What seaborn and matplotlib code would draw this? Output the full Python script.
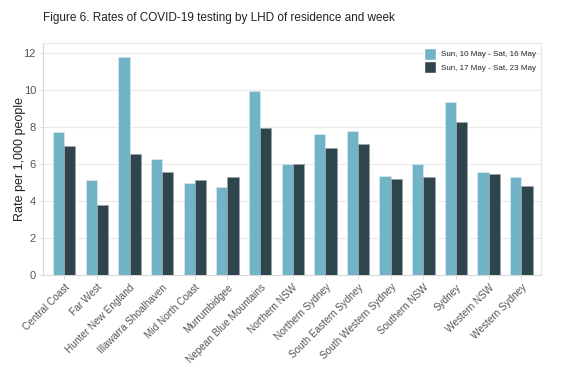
import seaborn as sns
import pandas as pd
import matplotlib.pyplot as plt

districts = ["Central Coast", "Far West", "Hunter New England", "Illawarra Shoalhaven",
             "Mid North Coast", "Murrumbidgee", "Nepean Blue Mountains", "Northern NSW",
             "Northern Sydney", "South Eastern Sydney", "South Western Sydney",
             "Southern NSW", "Sydney", "Western NSW", "Western Sydney"]
weeks = ["Sun, 10 May - Sat, 16 May", "Sun, 17 May - Sat, 23 May"]
week1 = [7.75, 5.17, 11.78, 6.29, 5.01, 4.77, 9.94, 6.00, 7.62, 7.80, 5.37, 6.00, 9.35, 5.57, 5.33]
week2 = [7.01, 3.78, 6.56, 5.57, 5.15, 5.30, 7.98, 6.00, 6.86, 7.08, 5.21, 5.30, 8.30, 5.46, 4.83]
colors = ["#72b4c7", "#2e454d"]

df = pd.DataFrame({
    "district": districts * 2,
    "week": [weeks[0]] * len(districts) + [weeks[1]] * len(districts),
    "rate": week1 + week2,
})

sns.set_theme(style="white")
plt.rcParams['font.family'] = ['Liberation Sans', 'DejaVu Sans']

fig = plt.figure(figsize=(5.62, 3.76), dpi=100)
ax = fig.add_axes([0.0765, 0.268, 0.886, 0.618])

sns.barplot(data=df, x="district", y="rate", hue="week", palette=colors,
            width=0.69, saturation=1, ax=ax, zorder=3)
for i, cont in enumerate(ax.containers):
    for bar in cont:
        bar.set_edgecolor("#d8e8ee" if i == 0 else "#9aa5a9")
        bar.set_linewidth(0.5)

ax.set_xlim(-0.65, 14.6)
ax.set_ylim(0, 12.57)
ax.set_yticks([0, 2, 4, 6, 8, 10, 12])
ax.yaxis.grid(True, color="#ebebeb", linewidth=0.8, zorder=0)
ax.set_axisbelow(True)
for s in ax.spines.values():
    s.set_color("#e6e6e6")
    s.set_linewidth(0.8)
ax.spines["left"].set_color("#d9d9d9")
ax.spines["bottom"].set_color("#d9d9d9")

ax.tick_params(axis="y", colors="#d9d9d9", labelcolor="#555555", length=3, width=0.6,
               labelsize=8, pad=2, left=True)
ax.tick_params(axis="x", colors="#d9d9d9", labelcolor="#555555", length=3, width=0.6,
               labelsize=7.2, pad=2, bottom=True)
plt.setp(ax.get_xticklabels(), rotation=45, ha="right", rotation_mode="anchor")
ax.set_xlabel("")
ax.set_ylabel("Rate per 1,000 people", fontsize=9, color="#222222")
ax.yaxis.set_label_coords(-0.035, 0.5)

fig.text(0.0765, 0.945, "Figure 6. Rates of COVID-19 testing by LHD of residence and week",
         fontsize=8.5, color="#222222", ha="left", va="baseline")

ax.legend(loc="upper right", frameon=False, fontsize=5.8, handlelength=1.5, handleheight=2.0,
          handletextpad=0.6, labelspacing=0.1, borderaxespad=0.2)

fig.savefig("out.png", dpi=100)
